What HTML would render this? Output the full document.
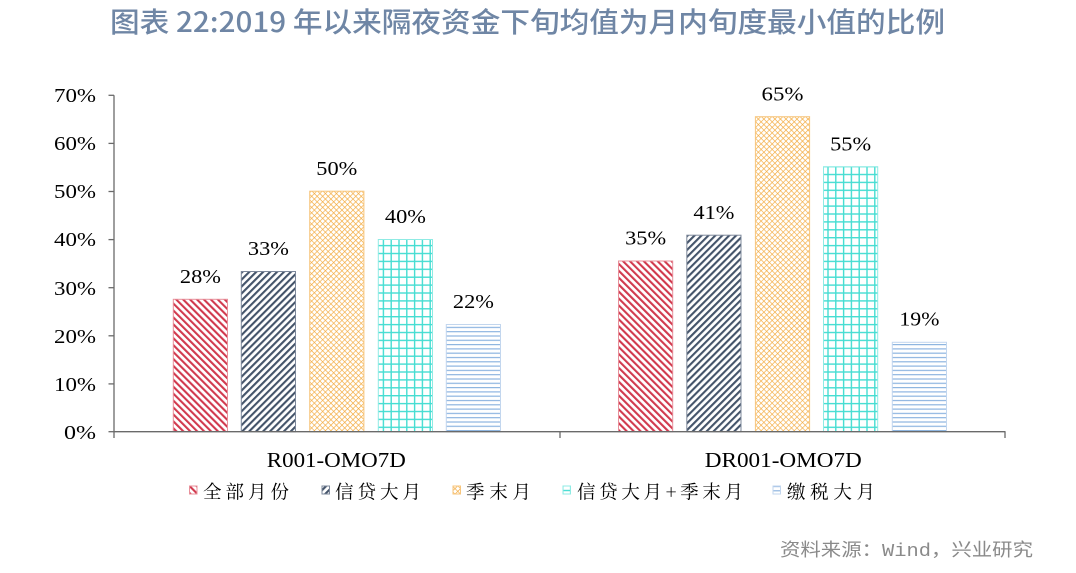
<!DOCTYPE html>
<html>
<head>
<meta charset="utf-8">
<style>
  html, body { margin:0; padding:0; background:#ffffff; }
  body { width:1076px; height:573px; overflow:hidden; }
  svg { display:block; }
</style>
</head>
<body>
<svg width="1076" height="573" viewBox="0 0 1076 573" xmlns="http://www.w3.org/2000/svg">
  <defs>
    <pattern id="pRed" patternUnits="userSpaceOnUse" width="4.9" height="4.9" patternTransform="rotate(-45)">
      <rect x="0" y="0" width="2.1" height="4.9" fill="#d13a4e"/>
    </pattern>
    <pattern id="pNavy" patternUnits="userSpaceOnUse" width="4.9" height="4.9" patternTransform="rotate(45)">
      <rect x="0" y="0" width="2.1" height="4.9" fill="#44546a"/>
    </pattern>
    <pattern id="pOrange" patternUnits="userSpaceOnUse" width="3.9" height="3.9" patternTransform="rotate(45)">
      <rect x="0" y="0" width="0.65" height="3.9" fill="#f3a93c"/>
      <rect x="0" y="0" width="3.9" height="0.65" fill="#f3a93c"/>
    </pattern>
    <pattern id="pTeal" patternUnits="userSpaceOnUse" width="7.8" height="7.9" x="0.5" y="0">
      <rect x="0" y="0" width="1.4" height="7.9" fill="#45ddd2"/>
      <rect x="0" y="0" width="7.8" height="1.4" fill="#45ddd2"/>
    </pattern>
    <pattern id="pBlue" patternUnits="userSpaceOnUse" width="6" height="4.3">
      <rect x="0" y="0" width="6" height="1.2" fill="#8db4e0"/>
    </pattern>
  </defs>

  <!-- Title -->
  <text x="110" y="32" font-family="'Noto Sans CJK SC','Liberation Sans',sans-serif" font-size="28" font-weight="500" fill="#6f86a5" textLength="835" lengthAdjust="spacingAndGlyphs">图表 22:2019 年以来隔夜资金下旬均值为月内旬度最小值的比例</text>

  <!-- Y axis labels -->
  <g font-family="'Liberation Serif',serif" font-size="20" fill="#000" text-anchor="end">
    <text x="96" y="102" textLength="42" lengthAdjust="spacingAndGlyphs">70%</text>
    <text x="96" y="150" textLength="42" lengthAdjust="spacingAndGlyphs">60%</text>
    <text x="96" y="198" textLength="42" lengthAdjust="spacingAndGlyphs">50%</text>
    <text x="96" y="246" textLength="42" lengthAdjust="spacingAndGlyphs">40%</text>
    <text x="96" y="295" textLength="42" lengthAdjust="spacingAndGlyphs">30%</text>
    <text x="96" y="343" textLength="42" lengthAdjust="spacingAndGlyphs">20%</text>
    <text x="96" y="391" textLength="42" lengthAdjust="spacingAndGlyphs">10%</text>
    <text x="96" y="439" textLength="32" lengthAdjust="spacingAndGlyphs">0%</text>
  </g>

  <!-- Bars group 1 -->
  <rect x="173.3" y="299.3" width="54.2" height="132.4" fill="url(#pRed)" stroke="#e8909b" stroke-width="1"/>
  <rect x="241.3" y="271.5" width="54.2" height="160.2" fill="url(#pNavy)" stroke="#7d889b" stroke-width="1"/>
  <rect x="309.7" y="191.2" width="54.2" height="240.5" fill="url(#pOrange)" stroke="#f7c67e" stroke-width="1"/>
  <rect x="378.3" y="239.5" width="54.2" height="192.2" fill="url(#pTeal)" stroke="#8febe4" stroke-width="1"/>
  <rect x="446.3" y="324.5" width="54.2" height="107.2" fill="url(#pBlue)" stroke="#c2d6ee" stroke-width="1"/>

  <!-- Bars group 2 -->
  <rect x="618.5" y="261" width="54.2" height="170.7" fill="url(#pRed)" stroke="#e8909b" stroke-width="1"/>
  <rect x="686.8" y="235.2" width="54.2" height="196.5" fill="url(#pNavy)" stroke="#7d889b" stroke-width="1"/>
  <rect x="755.4" y="116.7" width="54.2" height="315" fill="url(#pOrange)" stroke="#f7c67e" stroke-width="1"/>
  <rect x="823.5" y="166.7" width="54.2" height="265" fill="url(#pTeal)" stroke="#8febe4" stroke-width="1"/>
  <rect x="892.3" y="342.3" width="54.2" height="89.4" fill="url(#pBlue)" stroke="#c2d6ee" stroke-width="1"/>

  <!-- Axes -->
  <g stroke="#6a6a6a" stroke-width="1.3" fill="none">
    <line x1="114" y1="95.3" x2="114" y2="438"/>
    <line x1="114" y1="431.7" x2="1005.5" y2="431.7"/>
    <line x1="560" y1="431.7" x2="560" y2="438"/>
    <line x1="1005" y1="431.7" x2="1005" y2="438"/>
    <line x1="108.5" y1="95.3" x2="114" y2="95.3"/>
    <line x1="108.5" y1="143.4" x2="114" y2="143.4"/>
    <line x1="108.5" y1="191.5" x2="114" y2="191.5"/>
    <line x1="108.5" y1="239.6" x2="114" y2="239.6"/>
    <line x1="108.5" y1="287.7" x2="114" y2="287.7"/>
    <line x1="108.5" y1="335.8" x2="114" y2="335.8"/>
    <line x1="108.5" y1="383.9" x2="114" y2="383.9"/>
    <line x1="108.5" y1="431.7" x2="114" y2="431.7"/>
  </g>

  <!-- Data labels -->
  <g font-family="'Liberation Serif',serif" font-size="20" fill="#000" text-anchor="middle">
    <text x="200.4" y="283" textLength="41" lengthAdjust="spacingAndGlyphs">28%</text>
    <text x="268.4" y="255" textLength="41" lengthAdjust="spacingAndGlyphs">33%</text>
    <text x="336.8" y="175" textLength="41" lengthAdjust="spacingAndGlyphs">50%</text>
    <text x="405.4" y="223" textLength="41" lengthAdjust="spacingAndGlyphs">40%</text>
    <text x="473.4" y="308" textLength="41" lengthAdjust="spacingAndGlyphs">22%</text>

    <text x="645.6" y="244.5" textLength="41" lengthAdjust="spacingAndGlyphs">35%</text>
    <text x="713.9" y="218.8" textLength="41" lengthAdjust="spacingAndGlyphs">41%</text>
    <text x="782.5" y="100.5" textLength="42" lengthAdjust="spacingAndGlyphs">65%</text>
    <text x="850.6" y="150.3" textLength="41" lengthAdjust="spacingAndGlyphs">55%</text>
    <text x="919.4" y="325.5" textLength="40" lengthAdjust="spacingAndGlyphs">19%</text>
  </g>

  <!-- Category labels -->
  <g font-family="'Liberation Serif',serif" font-size="21" fill="#000" text-anchor="middle">
    <text x="336.3" y="467" textLength="139" lengthAdjust="spacingAndGlyphs">R001-OMO7D</text>
    <text x="783.3" y="467" textLength="157" lengthAdjust="spacingAndGlyphs">DR001-OMO7D</text>
  </g>

  <!-- Legend -->
  <rect x="189.5" y="486" width="7.5" height="8" fill="url(#pRed)" stroke="#e8909b" stroke-width="1"/>
  <rect x="322" y="486" width="7.5" height="8" fill="url(#pNavy)" stroke="#7d889b" stroke-width="1"/>
  <rect x="453" y="486" width="7.5" height="8" fill="url(#pOrange)" stroke="#f7c67e" stroke-width="1"/>
  <rect x="563" y="486" width="7.5" height="8" fill="url(#pTeal)" stroke="#8febe4" stroke-width="1"/>
  <rect x="773" y="486" width="7.5" height="8" fill="url(#pBlue)" stroke="#c2d6ee" stroke-width="1"/>
  <g font-family="'Noto Serif CJK SC','Liberation Serif',serif" font-size="18.5" fill="#000">
    <text x="203" y="498.5" textLength="86" lengthAdjust="spacing">全部月份</text>
    <text x="335" y="498.5" textLength="86" lengthAdjust="spacing">信贷大月</text>
    <text x="466" y="498.5" textLength="65" lengthAdjust="spacing">季末月</text>
    <text x="577" y="498.5" textLength="166" lengthAdjust="spacing">信贷大月+季末月</text>
    <text x="787" y="498.5" textLength="88" lengthAdjust="spacing">缴税大月</text>
  </g>

  <!-- Source -->
  <text x="780" y="556" font-family="'Liberation Mono','Noto Sans CJK SC',sans-serif" font-size="18" fill="#8a8a8a" textLength="253" lengthAdjust="spacingAndGlyphs">资料来源：Wind，兴业研究</text>
</svg>
</body>
</html>
